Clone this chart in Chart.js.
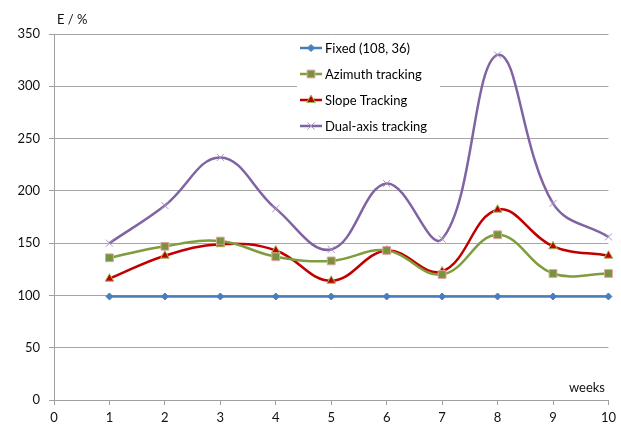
<!DOCTYPE html>
<html>
<head>
<meta charset="utf-8">
<script src="https://cdn.jsdelivr.net/npm/chart.js@4"></script>
<style>
  html, body { margin: 0; padding: 0; background: #fff; }
  #wrap { width: 621px; height: 424px; position: relative; }
</style>
</head>
<body>
<div id="wrap"><canvas id="chart"></canvas></div>
<script>
// weeks and measured values (E in %)
const weeks = [1, 2, 3, 4, 5, 6, 7, 8, 9, 10];
const fixed = [99, 99, 99, 99, 99, 99, 99, 99, 99, 99];
const azimuth = [136, 147, 152, 137, 133, 143, 120, 158, 121, 121];
const slope = [116, 138, 149, 143, 114, 143, 123, 182, 147, 138];
const dualAxis = [150, 186, 232, 183, 144, 207, 154, 330, 188, 156];
const seriesNames = ['Fixed (108, 36)', 'Azimuth tracking', 'Slope Tracking', 'Dual-axis tracking'];

const FONT = 'Lato, "Noto Sans", sans-serif';

const toPoints = (vals) => weeks.map((w, i) => ({ x: w, y: vals[i] }));

const mk = (label, vals, line, pStyle, pRadius, pFill, pBorder) => ({
    label: label,
    data: toPoints(vals),
    borderColor: line,
    borderWidth: 2.5,
    tension: 0.4,
    fill: false,
    clip: false,
    pointStyle: pStyle,
    pointRadius: pRadius,
    pointBackgroundColor: pFill,
    pointBorderColor: pBorder,
    pointBorderWidth: 1
});

// legend box drawn inside the plot + axis captions
const extras = {
    id: 'extras',
    afterDraw(chart) {
        const c = chart.ctx;
        c.save();
        c.fillStyle = '#fff';
        c.fillRect(297, 36, 143, 102);
        c.font = '13px ' + FONT;
        c.textBaseline = 'middle';
        chart.data.datasets.forEach((ds, i) => {
            const y = 48 + i * 26;
            c.strokeStyle = ds.borderColor;
            c.lineWidth = 2.5;
            c.beginPath();
            c.moveTo(300, y);
            c.lineTo(322, y);
            c.stroke();
            c.fillStyle = ds.pointBackgroundColor;
            c.strokeStyle = ds.pointBorderColor;
            c.lineWidth = 1;
            Chart.helpers.drawPoint(c, { pointStyle: ds.pointStyle, radius: ds.pointRadius, rotation: 0, borderWidth: 1 }, 311, y);
            c.fillStyle = '#000';
            c.textAlign = 'left';
            c.fillText(ds.label, 325, y + 1);
        });
        c.fillStyle = '#111';
        c.textAlign = 'left';
        c.fillText('E / %', 57, 20);
        c.textAlign = 'right';
        c.fillText('weeks', 605, 388);
        c.restore();
    }
};

new Chart(document.getElementById('chart'), {
    type: 'line',
    data: {
        datasets: [
            mk(seriesNames[0], fixed, '#4A7EBB', 'rectRot', 3.5, '#4A7EBB', '#4A7EBB'),
            mk(seriesNames[1], azimuth, '#7E9D3D', 'rect', 5.5, '#77933C', '#E2A2A0'),
            mk(seriesNames[2], slope, '#C00000', 'triangle', 5, '#C00000', '#9BBB59'),
            mk(seriesNames[3], dualAxis, '#8064A2', 'crossRot', 5, '#A893C8', '#A893C8')
        ]
    },
    options: {
        responsive: true,
        maintainAspectRatio: false,
        animation: false,
        layout: { padding: { top: 34, right: 11, left: 0, bottom: 0 } },
        plugins: {
            legend: { display: false },
            tooltip: { enabled: false }
        },
        scales: {
            x: {
                type: 'linear',
                min: 0,
                max: 10,
                ticks: { stepSize: 1, color: '#111', font: { family: FONT, size: 13 }, padding: 5 },
                grid: { drawOnChartArea: false, drawTicks: true, tickLength: 5, tickColor: '#a0a0a0' },
                border: { color: '#a0a0a0' },
                afterFit(scale) { scale.height = 24; }
            },
            y: {
                min: 0,
                max: 350,
                ticks: { stepSize: 50, color: '#111', font: { family: FONT, size: 13 }, padding: 9 },
                grid: { color: '#a6a6a6', tickLength: 5, tickColor: '#a0a0a0' },
                border: { color: '#a0a0a0' },
                afterFit(scale) { scale.width = 54; }
            }
        }
    },
    plugins: [extras]
});
</script>
</body>
</html>
